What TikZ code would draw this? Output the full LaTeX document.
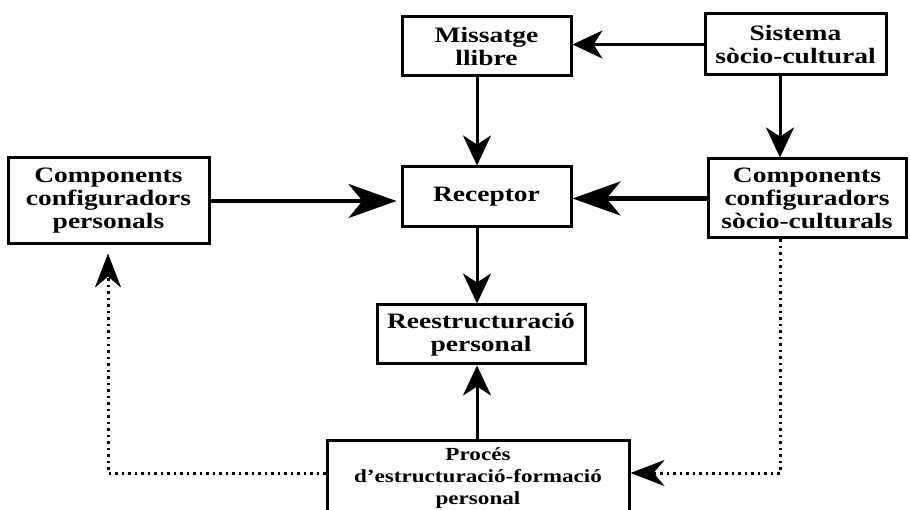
\documentclass[tikz,border=0pt]{standalone}
\usepackage{fontspec}
\setmainfont{Liberation Serif}[FakeStretch=1.25]
\usetikzlibrary{arrows.meta}
\tikzset{
  box/.style={draw, line width=3pt, inner sep=0pt, align=center,
    font=\bfseries\fontsize{22}{23}\selectfont},
  arr/.style={line width=3pt, -{Stealth[length=30pt,width=28pt,inset=9pt]}},
  bigarr/.style={line width=4.5pt, -{Stealth[length=48pt,width=34pt,inset=14pt]}},
  dotarr/.style={line width=3pt, dash pattern=on 2.5pt off 4pt,
    -{Stealth[length=34pt,width=26pt,inset=11pt]}},
}
\begin{document}
\begin{tikzpicture}[x=1pt,y=-1pt]
\useasboundingbox (0,0) rectangle (910,510);
\clip (0,0) rectangle (910,510);
\fill[white] (0,0) rectangle (910,510);
\coordinate (vx) at (477,0);
\coordinate (cx) at (780,0);
\coordinate (lx) at (108,0);
\coordinate (dy) at (0,473);

\node[box, minimum width=169pt, minimum height=59pt] (M) at (486.5,46.5) {Missatge\\llibre};
\node[box, minimum width=181pt, minimum height=61pt] (S) at (795.5,44.5) {Sistema\\sòcio-cultural};
\node[box, minimum width=201pt, minimum height=86pt] (CCP) at (108.5,201) {Components\\configuradors\\personals};
\node[box, minimum width=169pt, minimum height=60pt] (R) at (486.5,197) {Receptor};
\node[box, minimum width=198pt, minimum height=79pt] (CCS) at (807,198.5) {Components\\configuradors\\sòcio-culturals};
\node[box, minimum width=208pt, minimum height=59pt] (Re) at (481,334.5) {Reestructuració\\personal};
\node[box, minimum width=302pt, minimum height=76pt, font=\bfseries\fontsize{18.5}{22}\selectfont] (P) at (478,478) {Procés\\d’estructuració-formació\\personal};

\draw[arr, line width=2.5pt] (S.west) -- (S.west -| M.east);
\draw[arr] (M.south -| vx) -- (R.north -| vx);
\draw[arr] (S.south -| cx) -- (CCS.north -| cx);
\draw[bigarr, shorten >=4pt] (CCP.east) -- (CCP.east -| R.west);
\draw[bigarr] (CCS.west) -- (CCS.west -| R.east);
\draw[arr] (R.south -| vx) -- (Re.north -| vx);
\draw[arr] (P.north -| vx) -- (Re.south -| vx);
\draw[dotarr] (CCS.south -| cx) -- (cx |- dy) -- (P.east |- dy);
\draw[dotarr, shorten >=8pt] (P.west |- dy) -- (lx |- dy) -- (lx |- CCP.south);
\end{tikzpicture}
\end{document}
